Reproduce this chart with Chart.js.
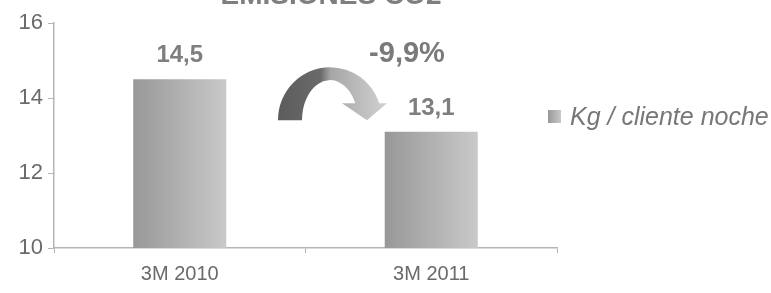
<!DOCTYPE html>
<html>
<head>
<meta charset="utf-8">
<script src="https://cdn.jsdelivr.net/npm/chart.js@4"></script>
<style>
  html, body { margin: 0; padding: 0; background: #fff; }
</style>
</head>
<body>
<canvas id="myChart" width="771" height="293"></canvas>
<script>
const categories = ["3M 2010", "3M 2011"];
const values = [14.5, 13.1];
const valueLabels = ["14,5", "13,1"];
const seriesName = "Kg / cliente noche";
const changeLabel = "-9,9%";
const titleText = "EMISIONES CO2";

const FONT = "'Liberation Sans', Arial, sans-serif";

function barGradient(ctx, x0, x1) {
  const g = ctx.createLinearGradient(x0, 0, x1, 0);
  g.addColorStop(0, "#989898");
  g.addColorStop(1, "#c9c9c9");
  return g;
}

// gradient bars + value labels
const barStyle = {
  id: "barStyle",
  beforeDatasetsDraw(chart) {
    const meta = chart.getDatasetMeta(0);
    meta.data.forEach((el) => {
      const half = el.width / 2;
      el.options = Object.assign({}, el.options, {
        backgroundColor: barGradient(chart.ctx, el.x - half, el.x + half),
      });
    });
  },
  afterDatasetsDraw(chart) {
    const ctx = chart.ctx;
    const meta = chart.getDatasetMeta(0);
    ctx.save();
    ctx.font = "bold 24px " + FONT;
    ctx.fillStyle = "#7f7f7f";
    ctx.textAlign = "center";
    ctx.textBaseline = "alphabetic";
    meta.data.forEach((el, i) => {
      ctx.fillText(valueLabels[i], el.x, el.y - 17);
    });
    ctx.restore();
  },
};

// curved arrow, change label, title and legend
const decorations = {
  id: "decorations",
  afterDraw(chart) {
    const ctx = chart.ctx;
    const x = chart.scales.x;
    const y = chart.scales.y;
    const cx = (x.getPixelForValue(0) + x.getPixelForValue(1)) / 2 + 24.5;
    const cy = y.getPixelForValue(13.41);

    // arrow
    const oRx = 52, oRy = 53, iRx = 28, iRy = 40;
    const endY = cy - 17;
    const aO = Math.asin(-17 / oRy);
    const aI = Math.asin(-17 / iRy);
    ctx.save();
    const g = ctx.createLinearGradient(cx - oRx, 0, cx + 60, 0);
    g.addColorStop(0, "#5c5c5c");
    g.addColorStop(0.38, "#6a6a6a");
    g.addColorStop(0.47, "#a6a6a6");
    g.addColorStop(1, "#d4d4d4");
    ctx.fillStyle = g;
    ctx.beginPath();
    ctx.ellipse(cx, cy, oRx, oRy, 0, Math.PI, 2 * Math.PI + aO, false);
    ctx.lineTo(cx + 57, endY);
    ctx.lineTo(cx + 37, cy);
    ctx.lineTo(cx + 12, endY);
    ctx.lineTo(cx + iRx * Math.cos(aI), endY);
    ctx.ellipse(cx, cy, iRx, iRy, 0, 2 * Math.PI + aI, Math.PI, true);
    ctx.closePath();
    ctx.fill();

    // change label
    ctx.font = "bold 29px " + FONT;
    ctx.fillStyle = "#7a7a7a";
    ctx.textAlign = "center";
    ctx.fillText(changeLabel, cx + 77, y.getPixelForValue(14.95));

    // title (cut at the top edge)
    ctx.font = "bold 28px " + FONT;
    ctx.fillStyle = "#7f7f7f";
    ctx.fillText(titleText, 331, 4);

    // legend
    const lx = chart.chartArea.right - 9;
    const ly = 110;
    ctx.fillStyle = barGradient(ctx, lx, lx + 13);
    ctx.fillRect(lx, ly, 13, 13);
    ctx.font = "italic 25px " + FONT;
    ctx.fillStyle = "#777777";
    ctx.textAlign = "left";
    ctx.fillText(seriesName, lx + 22, ly + 15);
    ctx.restore();
  },
};

new Chart(document.getElementById("myChart"), {
  type: "bar",
  data: {
    labels: categories,
    datasets: [
      {
        label: seriesName,
        data: values,
        backgroundColor: "#b0b0b0",
        borderWidth: 0,
        barPercentage: 0.74,
        categoryPercentage: 0.5,
      },
    ],
  },
  options: {
    responsive: false,
    animation: false,
    devicePixelRatio: 1,
    layout: { padding: { top: 23, right: 214, left: 0, bottom: 0 } },
    plugins: {
      legend: { display: false },
      title: { display: false },
      tooltip: { enabled: false },
    },
    scales: {
      x: {
        offset: true,
        grid: {
          offset: true,
          drawOnChartArea: false,
          drawTicks: true,
          tickLength: 5,
          color: "#b5b5b5",
        },
        border: { color: "#b5b5b5", width: 1.5 },
        ticks: {
          color: "#6a6a6a",
          font: { family: FONT, size: 20 },
          padding: 9,
        },
        afterFit(scale) {
          scale.height = 45;
        },
      },
      y: {
        min: 10,
        max: 16,
        ticks: {
          stepSize: 2,
          color: "#6a6a6a",
          font: { family: FONT, size: 22 },
          padding: 5,
        },
        grid: {
          drawOnChartArea: false,
          drawTicks: true,
          tickLength: 6,
          color: "#b5b5b5",
        },
        border: { color: "#b5b5b5", width: 1.5 },
        afterFit(scale) {
          scale.width = 54;
        },
      },
    },
  },
  plugins: [barStyle, decorations],
});
</script>
</body>
</html>
